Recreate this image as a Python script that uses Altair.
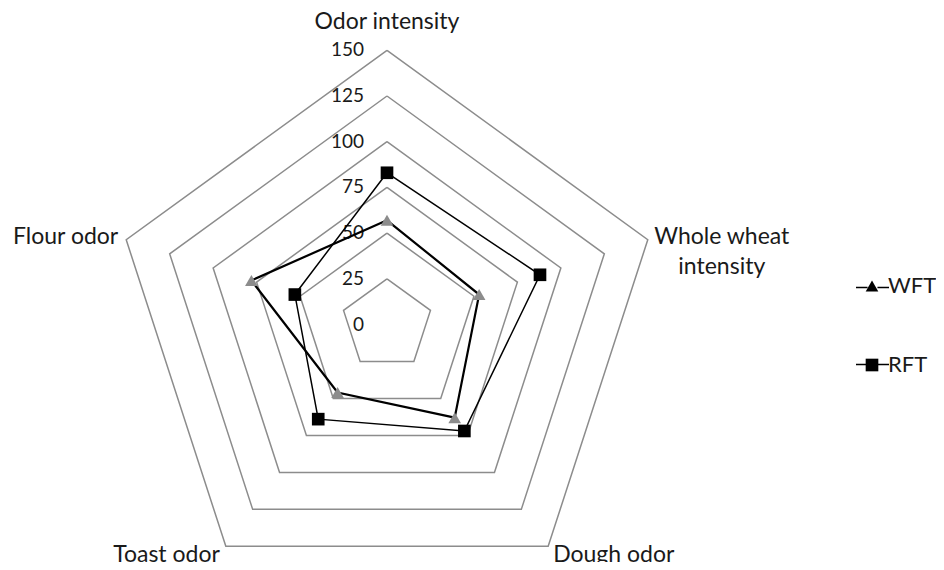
import altair as alt
import pandas as pd

categories = ["Odor intensity", "Whole wheat intensity", "Dough odor", "Toast odor", "Flour odor"]
series_names = ["WFT", "RFT"]
wft_values = [57, 53, 63, 46, 78]
rft_values = [83, 88, 72, 64, 53]
grid_levels = [25, 50, 75, 100, 125, 150]
tick_values = [0, 25, 50, 75, 100, 125, 150]
label_radius = 150

n = len(categories)
rows = []
for s, vals in zip(series_names, [wft_values, rft_values]):
    for i in range(n + 1):
        k = i % n
        rows.append({"series": s, "idx": i, "category": categories[k], "value": vals[k]})
df = pd.DataFrame(rows)
grid_df = pd.DataFrame([{"level": L, "idx": i} for L in grid_levels for i in range(n + 1)])
tick_df = pd.DataFrame({"tick": tick_values})
label_df = pd.DataFrame({"category": categories, "idx": list(range(n)), "r": [label_radius] * n})

ANG = "datum.idx * 2 * PI / 5"
FONT = "Lato"
TXT = "#1a1a1a"

W, H = 928, 554
CX, CY, PX_PER_UNIT = 379, 316.5, 1.828
xs = alt.Scale(domain=[-CX / PX_PER_UNIT, (W - CX) / PX_PER_UNIT], nice=False, zero=False)
ys = alt.Scale(domain=[-(H - CY) / PX_PER_UNIT, CY / PX_PER_UNIT], nice=False, zero=False)

def polar(chart, rfield):
    return chart.transform_calculate(
        ang=ANG,
        px=f"datum.{rfield} * sin({ANG})",
        py=f"datum.{rfield} * cos({ANG})",
    )

def xy():
    return dict(x=alt.X("px:Q", scale=xs, axis=None), y=alt.Y("py:Q", scale=ys, axis=None))

grid = polar(alt.Chart(grid_df), "level").mark_line(color="#8c8c8c", strokeWidth=1.5).encode(
    detail="level:N", order="idx:Q", **xy()
)

ticks = alt.Chart(tick_df).transform_calculate(px="0", py="datum.tick").mark_text(
    align="right", baseline="middle", dx=-23, font=FONT, fontSize=19, color=TXT
).encode(text="tick:Q", **xy())

lines = polar(alt.Chart(df), "value").transform_calculate(series_l="datum.series").mark_line().encode(
    order="idx:Q",
    stroke=alt.Stroke("series_l:N", sort=series_names,
                      scale=alt.Scale(range=["#000000", "#000000"]),
                      legend=alt.Legend(title=None, orient="none", legendX=847, legendY=262,
                                        symbolType="M-1,0H-0.3M0.3,0H1", symbolSize=1089, padding=0,
                                        labelFont=FONT, labelFontSize=22, labelColor="transparent",
                                        rowPadding=48, labelOffset=4)),
    strokeWidth=alt.StrokeWidth("series_l:N", sort=series_names,
                                scale=alt.Scale(range=[2.2, 1.5])),
    **xy()
)

points = polar(alt.Chart(df), "value").transform_filter("datum.idx < 5").mark_point(
    filled=True, opacity=1, size=160, strokeWidth=0
).encode(
    shape=alt.Shape("series:N", sort=series_names,
                    scale=alt.Scale(range=["triangle-up", "square"]),
                    legend=alt.Legend(title=None, orient="none", legendX=853, legendY=267,
                                      symbolSize=160, padding=0, symbolStrokeWidth=0,
                                      labelFont=FONT, labelFontSize=22, labelColor=TXT,
                                      rowPadding=57, labelOffset=5)),
    fill=alt.Fill("series:N", sort=series_names,
                  scale=alt.Scale(range=["#8c8c8c", "#000000"])),
    **xy()
)

label_specs = [
    (0, dict(align="center", baseline="middle", dy=-28)),
    (1, dict(align="center", baseline="middle", dx=74, dy=-3, lineBreak="|", lineHeight=30)),
    (2, dict(align="left", baseline="middle", dx=5, dy=9)),
    (3, dict(align="right", baseline="middle", dx=-6, dy=9)),
    (4, dict(align="right", baseline="middle", dx=-8, dy=-3)),
]
label_layers = []
for k, props in label_specs:
    base = polar(alt.Chart(label_df), "r").transform_filter(f"datum.idx == {k}")
    if k == 1:
        base = base.transform_calculate(lab="replace(datum.category, 'wheat ', 'wheat|')")
    else:
        base = base.transform_calculate(lab="datum.category")
    label_layers.append(
        base.mark_text(font=FONT, fontSize=23, color=TXT, **props).encode(text="lab:N", **xy())
    )

chart = alt.layer(grid, ticks, lines, points, *label_layers).resolve_legend(
    stroke="independent", shape="independent"
).properties(
    width=W, height=H, autosize=alt.AutoSizeParams(type="none"), padding=0,
    background="white"
).configure_view(stroke=None)

chart.save("out.html", embed_options={"renderer": "svg", "actions": False})
